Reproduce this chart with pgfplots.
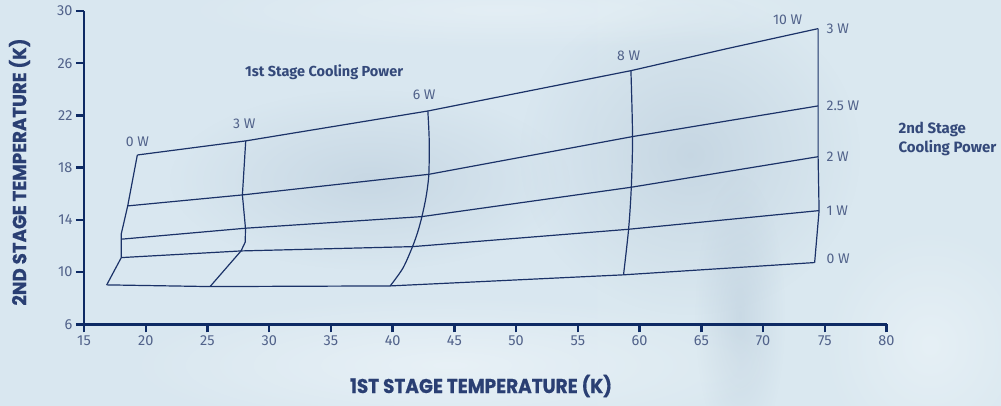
\documentclass[border=0pt]{standalone}
\usepackage{pgfplots}
\pgfplotsset{compat=1.18}
\usetikzlibrary{fadings}
\usepackage{fontspec}
\setmainfont{Fira Sans}
\newfontfamily\poppins{Poppins}[BoldFeatures={FakeBold=0.6}]
\usepackage{graphicx}
\definecolor{axisnavy}{HTML}{0E2A64}
\definecolor{curvenavy}{HTML}{1B3268}
\definecolor{ticktext}{HTML}{51628A}
\definecolor{titletext}{HTML}{34497A}
\definecolor{axtitle}{HTML}{2A3F73}
\definecolor{bga}{HTML}{D5E8F1}
\definecolor{bgb}{HTML}{DDEDF5}
\definecolor{bgc}{HTML}{E2EFF6}
\definecolor{bgd}{HTML}{DCEAF2}
\definecolor{bge}{HTML}{D9E7F0}
\definecolor{bgf}{HTML}{DAE8F0}
\definecolor{bgg}{HTML}{D3E1EB}
\definecolor{bgh}{HTML}{CEDCE8}
\definecolor{bgi}{HTML}{D0DEE9}
\definecolor{bgj}{HTML}{DCE8F0}
\definecolor{bgk}{HTML}{E7F0F6}
\definecolor{bgl}{HTML}{E4EEF4}
\definecolor{blob}{HTML}{B9CBDA}
\definecolor{lightblob}{HTML}{EEF5F9}
\pgfdeclarehorizontalshading{bgshade}{100bp}{color(0bp)=(bga); color(40bp)=(bgb); color(150bp)=(bgc); color(300bp)=(bgd); color(450bp)=(bge); color(560bp)=(bgf); color(640bp)=(bgg); color(700bp)=(bgh); color(760bp)=(bgi); color(800bp)=(bgj); color(900bp)=(bgk); color(1001bp)=(bgl)}
\tikzfading[name=fuzzy, inner color=transparent!0, outer color=transparent!100]
\begin{document}
\begin{tikzpicture}
\shade[shading=bgshade] (0pt,0pt) rectangle (1001pt,405pt);
\begin{scope}
\clip (0pt,0pt) rectangle (1001pt,405pt);
\fill[blob, opacity=0.55, path fading=fuzzy] (370pt,225pt) ellipse (200pt and 90pt);
\fill[blob, opacity=0.6, path fading=fuzzy] (690pt,250pt) ellipse (170pt and 160pt);
\fill[blob, opacity=0.5, path fading=fuzzy] (740pt,90pt) ellipse (45pt and 140pt);
\fill[lightblob, opacity=0.7, path fading=fuzzy] (450pt,40pt) ellipse (330pt and 70pt);
\fill[lightblob, opacity=0.6, path fading=fuzzy] (930pt,60pt) ellipse (110pt and 120pt);
\fill[lightblob, opacity=0.5, path fading=fuzzy] (500pt,395pt) ellipse (330pt and 40pt);
\end{scope}
\begin{axis}[
  at={(84pt,80.7pt)}, anchor=south west,
  scale only axis, width=802.5pt, height=313.3pt,
  xmin=15, xmax=80, ymin=6, ymax=30,
  axis x line=bottom, axis y line=left,
  axis line style={-, line width=2.6pt, axisnavy},
  xtick={15,20,...,80}, ytick={6,10,...,30},
  tick align=outside, major tick length=8pt,
  tick style={line width=2.4pt, axisnavy},
  clip=false,
  /pgf/number format/assume math mode=true,
  ticklabel style={font=\fontsize{14.5}{15}\selectfont, text=ticktext},
]
% 1st stage power curves (near vertical)
\addplot[curvenavy, line width=1.2pt, mark=none] coordinates {(19.32,18.97) (18.54,15.07) (18.02,12.93) (18.02,12.52) (18.02,11.11) (16.84,9.02)};
\addplot[curvenavy, line width=1.2pt, mark=none] coordinates {(28.10,20.05) (27.83,15.91) (28.08,13.36) (28.06,12.30) (27.72,11.62) (25.21,8.89)};
\addplot[curvenavy, line width=1.2pt, mark=none, smooth] coordinates {(42.85,22.34) (42.96,20.12) (42.93,17.49) (42.71,15.78) (42.37,14.25) (42.04,13.10) (41.61,11.95) (40.83,10.30) (39.80,8.94)};
\addplot[curvenavy, line width=1.2pt, mark=none, smooth] coordinates {(59.30,25.43) (59.43,20.38) (59.33,16.50) (59.11,13.28) (58.70,9.79)};
\addplot[curvenavy, line width=1.2pt, mark=none] coordinates {(74.46,28.65) (74.46,22.73) (74.46,18.84) (74.54,14.71) (74.18,10.73)};
% 2nd stage power curves (near horizontal)
\addplot[curvenavy, line width=1.2pt, mark=none] coordinates {(19.32,18.97) (28.10,20.05) (42.85,22.34) (59.30,25.43) (67.0,27.1) (74.46,28.65)};
\addplot[curvenavy, line width=1.2pt, mark=none] coordinates {(18.54,15.07) (27.83,15.91) (42.93,17.49) (59.43,20.38) (74.46,22.73)};
\addplot[curvenavy, line width=1.2pt, mark=none] coordinates {(18.02,12.52) (28.08,13.36) (42.37,14.25) (59.33,16.50) (74.46,18.84)};
\addplot[curvenavy, line width=1.2pt, mark=none] coordinates {(18.02,11.11) (27.72,11.62) (41.61,11.95) (59.11,13.28) (74.54,14.71)};
\addplot[curvenavy, line width=1.2pt, mark=none] coordinates {(16.84,9.02) (25.21,8.89) (39.80,8.94) (58.70,9.79) (74.18,10.73)};
% labels
\begin{scope}[every node/.style={font=\fontsize{14}{15}\selectfont, text=ticktext, inner sep=0pt}]
\node at (axis cs:19.32,19.97) {0 W};
\node at (axis cs:27.99,21.35) {3 W};
\node at (axis cs:42.55,23.57) {6 W};
\node at (axis cs:59.11,26.58) {8 W};
\node at (axis cs:71.99,29.36) {10 W};
\node[anchor=west] at (axis cs:75.13,28.67) {3 W};
\node[anchor=west] at (axis cs:75.13,22.73) {2.5 W};
\node[anchor=west] at (axis cs:75.13,18.84) {2 W};
\node[anchor=west] at (axis cs:75.13,14.71) {1 W};
\node[anchor=west] at (axis cs:75.13,10.99) {0 W};
\end{scope}
\node[font=\fontsize{14.5}{17}\selectfont\bfseries, text=titletext] at (axis cs:34.45,25.33) {1st Stage Cooling Power};
\node[anchor=west, align=left, inner sep=0pt, font=\fontsize{15}{19}\selectfont\bfseries, text=titletext] at (axis cs:80.96,20.21) {2nd Stage\\Cooling Power};
\end{axis}
\node[text=axtitle, inner sep=0pt] at (481pt,19pt) {\resizebox{262pt}{\height}{\poppins\bfseries\fontsize{20}{22}\selectfont 1ST STAGE TEMPERATURE (K)}};
\node[text=axtitle, inner sep=0pt, rotate=90] at (19.5pt,233pt) {\resizebox{267pt}{\height}{\poppins\bfseries\fontsize{19}{21}\selectfont 2ND STAGE TEMPERATURE (K)}};
\end{tikzpicture}
\end{document}
